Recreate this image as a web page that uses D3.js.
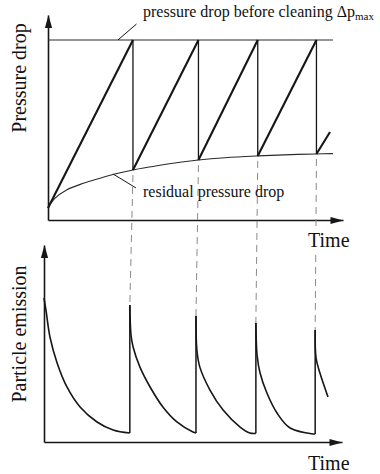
<!DOCTYPE html>
<html>
<head>
<meta charset="utf-8">
<script src="https://cdn.jsdelivr.net/npm/d3@7"></script>
<style>
  body { margin: 0; background: #fff; }
  svg { display: block; font-family: "Liberation Serif", "Times New Roman", serif; }
</style>
</head>
<body>
<div id="chart"></div>
<script>
"use strict"

// time of each cleaning pulse (arbitrary time units)
const cleaningTimes = [2.88, 5.1, 7.11, 9.1]
const endTime = 9.66

// pressure drop in % of the pressure drop before cleaning
const dpMax = 100
const dpStart = 6.7
const residualTimes = [0, 0.23, 0.63, 1.2, 1.76, 2.3, 2.88, 3.5, 4.0, 5.1, 6.0, 7.11, 8.0, 9.1, 9.66]
const residualValues = [6.7, 12.0, 16.7, 20.4, 23.2, 25.7, 27.8, 29.6, 31, 33.3, 34.6, 35.6, 36.2, 36.7, 36.9]
const residualAtCleaning = [27.8, 33.3, 35.6, 36.7]
const lastRampTime = 9.56
const lastRampValue = 48.9

// particle emission (arbitrary units), one list per filtration cycle
const emissionTimes = [
    [0, 0.07, 0.2, 0.44, 0.77, 1.21, 1.78, 2.32, 2.88],
    [2.88, 2.92, 2.99, 3.22, 3.56, 3.99, 4.46, 5.0, 5.1],
    [5.1, 5.13, 5.23, 5.57, 6.01, 6.58, 6.91, 7.11],
    [7.11, 7.15, 7.25, 7.48, 7.82, 8.26, 9.03, 9.1],
    [9.1, 9.13, 9.26, 9.53]
]
const emissionValues = [
    [100, 91, 72.9, 54.9, 38.2, 24.3, 13.9, 8.3, 6.2],
    [95.1, 74.3, 66, 52, 38.2, 24.3, 13.9, 6.9, 6.2],
    [87.5, 63.9, 52, 36.1, 22.2, 10.4, 6.3, 6],
    [82.6, 60.4, 47.9, 34, 20.1, 9.7, 5.6, 5.6],
    [77.8, 58.3, 47.9, 31.3]
]

// texts
const topLabel = "pressure drop before cleaning Δp"
const topLabelSub = "max"
const residualLabel = "residual pressure drop"
const yLabelTop = "Pressure drop"
const yLabelBottom = "Particle emission"
const xLabel = "Time"

// layout of the two panels (pixels)
const WIDTH = 380, HEIGHT = 474
const TOP = { left: 48, right: 343, bottom: 220, maxY: 40, arrowY: 15 }
const BOT = { left: 44, right: 342, bottom: 442, maxY: 298, arrowY: 245 }
const INK = "#161616"

const svg = d3.select("#chart").append("svg")
    .attr("width", WIDTH).attr("height", HEIGHT)

// scales
const xTop = d3.scaleLinear().domain([0, 10]).range([TOP.left, TOP.right])
const xBot = d3.scaleLinear().domain([0, 10]).range([BOT.left, BOT.right])
const yP = d3.scaleLinear().domain([0, dpMax]).range([TOP.bottom, TOP.maxY])
const yE = d3.scaleLinear().domain([0, 100]).range([BOT.bottom, BOT.maxY])

// ---------- axes with arrow heads ----------
function addAxes(x, y, box) {
    const yAxisScale = d3.scaleLinear().domain([0, y.invert(box.arrowY)])
        .range([box.bottom, box.arrowY])

    svg.append("g").attr("transform", "translate(0," + box.bottom + ")")
        .call(d3.axisBottom(x).tickValues([]).tickSizeOuter(0))
        .call(g => g.select(".domain").attr("stroke", INK).attr("stroke-width", 1.6))

    svg.append("g").attr("transform", "translate(" + box.left + ",0)")
        .call(d3.axisLeft(yAxisScale).tickValues([]).tickSizeOuter(0))
        .call(g => g.select(".domain").attr("stroke", INK).attr("stroke-width", 1.6))

    // arrow heads: tip at the end of each axis
    const head = "M0,0L-13,-3.6L-13,3.6Z"
    svg.append("path").attr("d", head).attr("fill", INK)
        .attr("transform", "translate(" + (x.range()[1] + 0.5) + "," + (box.bottom + 0.5) + ")")
    svg.append("path").attr("d", head).attr("fill", INK)
        .attr("transform", "translate(" + (box.left + 0.5) + "," + box.arrowY + ") rotate(-90)")
}

addAxes(xTop, yP, TOP)
addAxes(xBot, yE, BOT)

// ---------- dashed connectors between the panels ----------
cleaningTimes.forEach((t, i) => {
    svg.append("line")
        .attr("x1", xTop(t)).attr("y1", yP(residualAtCleaning[i]) + 5)
        .attr("x2", xBot(t)).attr("y2", yE(emissionValues[i + 1][0]))
        .attr("stroke", "#8a8a8a").attr("stroke-width", 1)
        .attr("stroke-dasharray", "7,5")
})

// ---------- top panel: pressure drop ----------
// Δp_max line
svg.append("line")
    .attr("x1", xTop(0)).attr("x2", xTop(endTime))
    .attr("y1", yP(dpMax)).attr("y2", yP(dpMax))
    .attr("stroke", "#2a2a2a").attr("stroke-width", 1.2)

// residual pressure drop
const residualLine = d3.line().x(d => xTop(d[0])).y(d => yP(d[1]))
    .curve(d3.curveCatmullRom.alpha(0.5))
svg.append("path")
    .attr("d", residualLine(d3.zip(residualTimes, residualValues)))
    .attr("fill", "none").attr("stroke", "#2a2a2a").attr("stroke-width", 1.1)

// filtration ramps (bold) and cleaning drops (thin)
const rampStarts = [[0, dpStart]].concat(cleaningTimes.map((t, i) => [t, residualAtCleaning[i]]))
const rampEnds = cleaningTimes.map(t => [t, dpMax]).concat([[lastRampTime, lastRampValue]])

rampStarts.forEach((s, i) => {
    svg.append("line")
        .attr("x1", xTop(s[0])).attr("y1", yP(s[1]))
        .attr("x2", xTop(rampEnds[i][0])).attr("y2", yP(rampEnds[i][1]))
        .attr("stroke", INK).attr("stroke-width", 2.1)
})

cleaningTimes.forEach((t, i) => {
    svg.append("line")
        .attr("x1", xTop(t)).attr("x2", xTop(t))
        .attr("y1", yP(dpMax)).attr("y2", yP(residualAtCleaning[i]))
        .attr("stroke", INK).attr("stroke-width", 1.3)
})

// ---------- bottom panel: particle emission ----------
const emissionLine = d3.line().x(d => xBot(d[0])).y(d => yE(d[1]))
    .curve(d3.curveCatmullRom.alpha(0.5))

emissionTimes.forEach((times, i) => {
    const vals = emissionValues[i]
    svg.append("path")
        .attr("d", emissionLine(d3.zip(times, vals)))
        .attr("fill", "none").attr("stroke", INK).attr("stroke-width", 1.6)

    // jump at the cleaning pulse
    if (i > 0) {
        const prev = emissionValues[i - 1]
        svg.append("line")
            .attr("x1", xBot(times[0])).attr("x2", xBot(times[0]))
            .attr("y1", yE(prev[prev.length - 1])).attr("y2", yE(vals[0]))
            .attr("stroke", INK).attr("stroke-width", 1.5)
    }
})

// ---------- labels ----------
// leader lines from labels to the curves
svg.append("line")
    .attr("x1", xTop(2.37)).attr("y1", yP(dpMax))
    .attr("x2", xTop(3.0)).attr("y2", yP(dpMax) - 16)
    .attr("stroke", INK).attr("stroke-width", 1)
svg.append("line")
    .attr("x1", xTop(2.2)).attr("y1", yP(25.6))
    .attr("x2", xTop(2.98)).attr("y2", yP(25.6) + 14)
    .attr("stroke", INK).attr("stroke-width", 1)

const maxLabel = svg.append("text").attr("x", 143).attr("y", 17)
    .attr("font-size", 16).attr("fill", "#111")
maxLabel.append("tspan").text(topLabel)
maxLabel.append("tspan").attr("font-size", 11).attr("dy", 3).text(topLabelSub)

svg.append("text").attr("x", 143).attr("y", 197)
    .attr("font-size", 16).attr("fill", "#111").text(residualLabel)

function timeLabel(yBase) {
    const t = svg.append("text").attr("x", 308).attr("y", yBase)
        .attr("font-size", 20).attr("fill", "#111").text(xLabel)
    // white patch so the dashed line does not run through the text
    const b = t.node().getBBox()
    svg.insert("rect", () => t.node())
        .attr("x", b.x - 1).attr("y", b.y - 1)
        .attr("width", b.width + 2).attr("height", b.height + 2)
        .attr("fill", "#fff")
}
timeLabel(247)
timeLabel(470)

svg.append("text").attr("transform", "translate(26,78) rotate(-90)")
    .attr("text-anchor", "middle").attr("font-size", 20).attr("fill", "#111")
    .text(yLabelTop)
svg.append("text").attr("transform", "translate(26,334) rotate(-90)")
    .attr("text-anchor", "middle").attr("font-size", 20).attr("fill", "#111")
    .text(yLabelBottom)
</script>
</body>
</html>
